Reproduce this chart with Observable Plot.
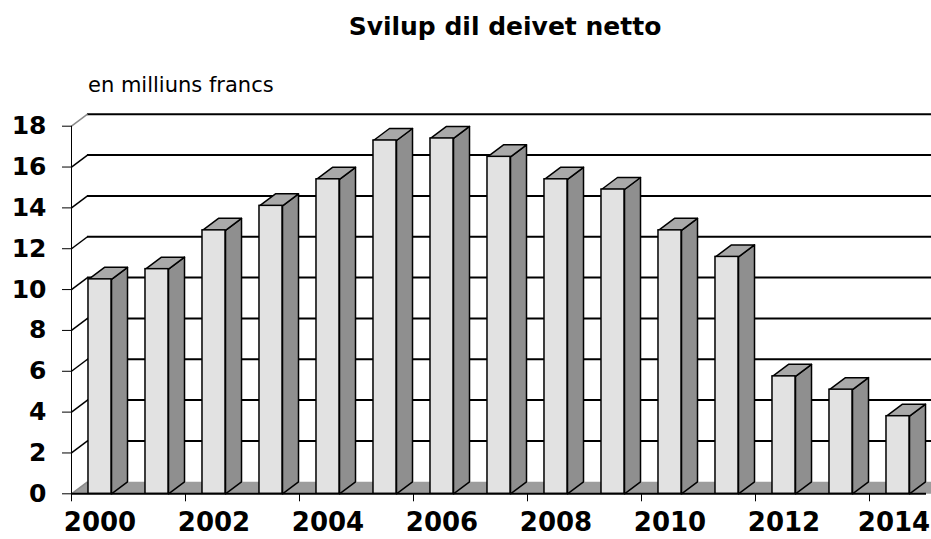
<!DOCTYPE html>
<html><head><meta charset="utf-8">
<script src="https://cdn.jsdelivr.net/npm/d3@7"></script>
<script src="https://cdn.jsdelivr.net/npm/@observablehq/plot@0.6"></script>
<style>
body{margin:0;background:#fff;}
#wrap{position:relative;width:931px;height:539px;overflow:hidden;font-family:"DejaVu Sans",Verdana,sans-serif;color:#000;}
#head{position:relative;height:100px;}
#title{position:absolute;left:205px;width:600px;top:14px;text-align:center;font-size:25px;line-height:25px;font-weight:bold;}
#sub{position:absolute;left:88px;top:75px;font-size:21px;line-height:21px;white-space:nowrap;}
#chart svg{display:block;}
</style>
</head><body>
<div id="wrap">
  <div id="head"><div id="title">Svilup dil deivet netto</div><div id="sub">en milliuns francs</div></div>
  <div id="chart"></div>
</div>
<script>
const years = [2000, 2001, 2002, 2003, 2004, 2005, 2006, 2007, 2008, 2009, 2010, 2011, 2012, 2013, 2014];
const values = [10.5, 11.0, 12.9, 14.1, 15.4, 17.3, 17.4, 16.5, 15.4, 14.9, 12.9, 11.6, 5.75, 5.1, 3.8];
const yTicks = [0, 2, 4, 6, 8, 10, 12, 14, 16, 18];
const xLabelIdx = [0, 2, 4, 6, 8, 10, 12, 14];

const W = 931, H = 439, mL = 71, mR = 5, mT = 25.7, mB = 45.7;
const n = years.length;
const DX = 16 / ((W - mL - mR) / n);       // depth offset in x units
const DY = 12 / ((H - mT - mB) / 18);       // depth offset in y units
const HW = 0.202;                            // half width of bar front face

const bars = years.map((yr, i) => ({i, c: i + 0.5, v: values[i]}));
const sides = bars.flatMap(b => [
  {id: b.i, x: b.c + HW, y: 0},
  {id: b.i, x: b.c + HW, y: b.v},
  {id: b.i, x: b.c + HW + DX, y: b.v + DY},
  {id: b.i, x: b.c + HW + DX, y: DY}
]);
const tops = bars.flatMap(b => [
  {id: b.i, x: b.c - HW, y: b.v},
  {id: b.i, x: b.c + HW, y: b.v},
  {id: b.i, x: b.c + HW + DX, y: b.v + DY},
  {id: b.i, x: b.c - HW + DX, y: b.v + DY}
]);
const floor = [
  {x: 0, y: 0}, {x: n + 1, y: 0}, {x: n + 1 + DX, y: DY}, {x: DX, y: DY}
];
const labelFmt = t => String(years[Math.floor(t)]);
const lastIdx = xLabelIdx[xLabelIdx.length - 1];

const chart = Plot.plot({
  width: W, height: H,
  marginLeft: mL, marginRight: mR, marginTop: mT, marginBottom: mB,
  x: {type: "linear", domain: [0, n]},
  y: {type: "linear", domain: [0, 18]},
  style: {fontFamily: "'DejaVu Sans', Verdana, sans-serif", fontSize: "25px", fontWeight: "bold", background: "#fff", color: "#000", overflow: "visible"},
  marks: [
    // floor
    Plot.line(floor, {x: "x", y: "y", curve: "linear-closed", fill: "#9c9c9c", stroke: "none"}),
    // back-wall gridlines
    Plot.ruleY(yTicks.filter(v => v > 0), {y: v => v + DY, x1: DX, x2: n + 1, stroke: "#000", strokeWidth: 2}),
    // side-wall diagonals
    Plot.link(yTicks.filter(v => v > 0 && v < 18), {x1: 0, y1: v => v, x2: DX, y2: v => v + DY, stroke: "#000", strokeWidth: 1.5}),
    Plot.link([0, 18], {x1: 0, y1: v => v, x2: DX, y2: v => v + DY, stroke: "#8a8a8a", strokeWidth: 1.5}),
    // front y axis line and bottom axis line
    Plot.ruleX([0], {y1: 0, y2: 18, stroke: "#000", strokeWidth: 1}),
    Plot.ruleY([0], {x1: 0, x2: n, stroke: "#000", strokeWidth: 2}),
    // bars
    Plot.line(sides, {x: "x", y: "y", z: "id", curve: "linear-closed", fill: "#8f8f8f", stroke: "#000", strokeWidth: 1.5}),
    Plot.line(tops, {x: "x", y: "y", z: "id", curve: "linear-closed", fill: "#a9a9a9", stroke: "#000", strokeWidth: 1.5}),
    Plot.rect(bars, {x1: b => b.c - HW, x2: b => b.c + HW, y1: 0, y2: "v", fill: "#e2e2e2", stroke: "#000", strokeWidth: 1.5}),
    // axes
    Plot.axisY({ticks: yTicks, tickSize: 9, tickPadding: 16, label: null, fontSize: 25, fontWeight: "bold"}),
    Plot.axisX({ticks: xLabelIdx, tickSize: 8, tickFormat: () => "", label: null}),
    Plot.axisX({ticks: xLabelIdx.slice(0, -1).map(i => i + 0.5), tickSize: 0, tickPadding: 19, label: null,
      tickFormat: labelFmt, fontSize: 26, fontWeight: "bold"}),
    Plot.axisX({ticks: [lastIdx + 0.5], tickSize: 0, tickPadding: 19, label: null, dx: -4,
      tickFormat: labelFmt, fontSize: 26, fontWeight: "bold"})
  ]
});
document.getElementById("chart").appendChild(chart);
</script>
</body></html>
